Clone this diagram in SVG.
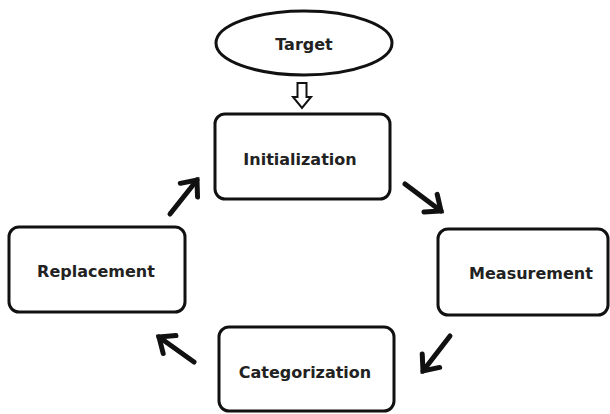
<svg xmlns="http://www.w3.org/2000/svg" width="610" height="414" viewBox="0 0 610 414">
<style>
.box{fill:#fff;stroke:#111;stroke-width:3}
.lbl{font-family:"DejaVu Sans",Verdana,sans-serif;font-weight:bold;font-size:16px;fill:#222;text-anchor:middle}
.arr{fill:none;stroke:#111;stroke-width:5;stroke-linecap:round}
</style>
<defs>
<marker id="chev" markerUnits="userSpaceOnUse" markerWidth="30" markerHeight="30" viewBox="-20 -15 30 30" refX="0" refY="0" orient="auto">
<path d="M-13,-11 L0,0 L-13,11" fill="none" stroke="#111" stroke-width="5" stroke-linecap="round" stroke-linejoin="miter"/>
</marker>
</defs>
<rect width="610" height="414" fill="#fff"/>
<g id="target">
<ellipse cx="304" cy="43" rx="88" ry="32" class="box" stroke-width="2.5"/>
<text x="304" y="50" class="lbl">Target</text>
</g>
<g id="initialization">
<rect x="215" y="114" width="175" height="85" rx="10" class="box"/>
<text x="300" y="165" class="lbl">Initialization</text>
</g>
<g id="measurement">
<rect x="438" y="229" width="170" height="86" rx="10" class="box"/>
<text x="531" y="279" class="lbl">Measurement</text>
</g>
<g id="categorization">
<rect x="219" y="327" width="175" height="84" rx="10" class="box"/>
<text x="305" y="378" class="lbl">Categorization</text>
</g>
<g id="replacement">
<rect x="9" y="227" width="176" height="85" rx="10" class="box"/>
<text x="96" y="277" class="lbl">Replacement</text>
</g>
<g id="connectors">
<polygon points="297.5,83 306.5,83 306.5,97 311,97 302,108 293,97 297.5,97" fill="#fff" stroke="#111" stroke-width="2" stroke-linejoin="miter"/>
<line x1="405" y1="184" x2="441" y2="211" class="arr" marker-end="url(#chev)"/>
<line x1="450" y1="336" x2="423" y2="371" class="arr" marker-end="url(#chev)"/>
<line x1="194" y1="362" x2="159" y2="337" class="arr" marker-end="url(#chev)"/>
<line x1="170" y1="214" x2="197" y2="180" class="arr" marker-end="url(#chev)"/>
</g>
</svg>
